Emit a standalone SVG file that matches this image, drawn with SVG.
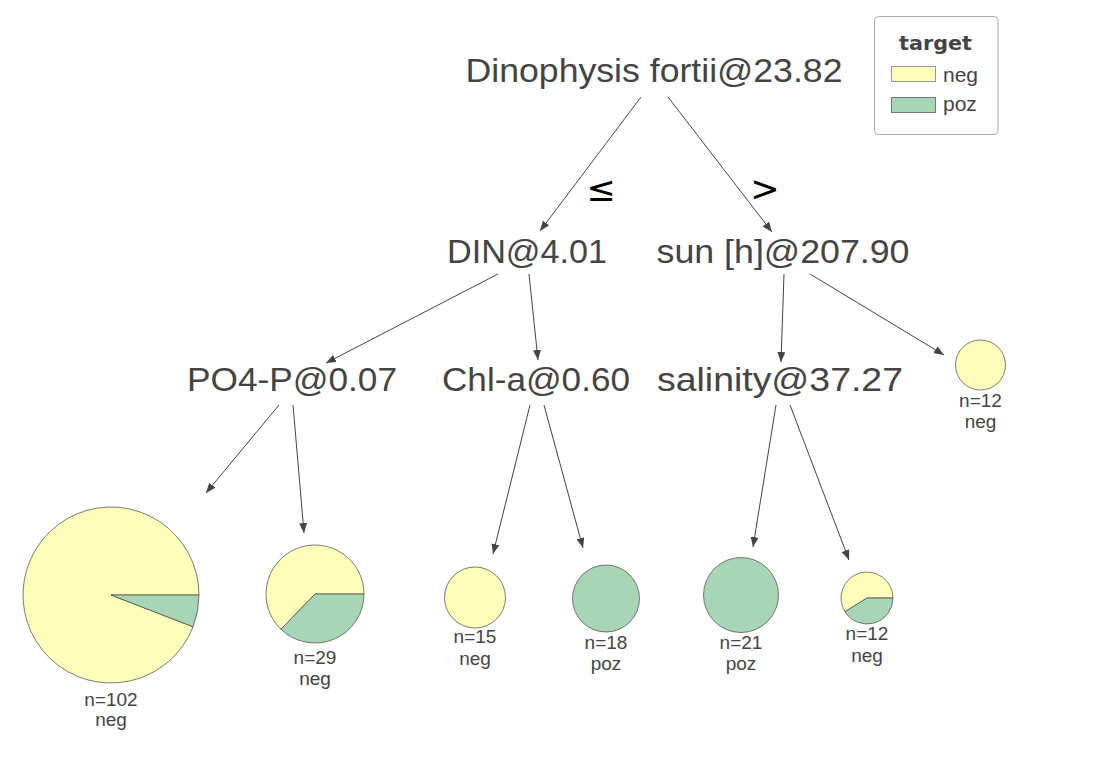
<svg xmlns="http://www.w3.org/2000/svg" width="1108" height="760" viewBox="0 0 1108 760">
<defs>
<style>
.node{font-family:"Liberation Sans",Arial,sans-serif;font-size:32.5px;fill:#444443;text-anchor:middle}
.lbl{font-family:"Liberation Sans",Arial,sans-serif;font-size:19px;fill:#444443;text-anchor:middle}
.edge{stroke:#444443;stroke-width:1;fill:none;marker-end:url(#ah)}
.neg{fill:#FEFEBB;stroke:#444443;stroke-width:0.7}
.poz{fill:#A9D5B7;stroke:#444443;stroke-width:0.7}
.op{font-family:"DejaVu Sans",sans-serif;font-size:35px;fill:#000;text-anchor:middle}
</style>
<marker id="ah" viewBox="0 0 10 8" refX="10" refY="4" markerWidth="10" markerHeight="8" markerUnits="userSpaceOnUse" orient="auto">
<path d="M0,0 L10,4 L0,8 Z" fill="#444443"/>
</marker>
</defs>
<rect width="1108" height="760" fill="#fff"/>
<g id="connectors">
<line class="edge" x1="641" y1="97" x2="540" y2="231"/>
<line class="edge" x1="668" y1="97" x2="772" y2="232"/>
<line class="edge" x1="498" y1="274" x2="326" y2="363"/>
<line class="edge" x1="529" y1="274" x2="538" y2="360"/>
<line class="edge" x1="784" y1="274" x2="781" y2="362"/>
<line class="edge" x1="810" y1="274" x2="944" y2="355"/>
<line class="edge" x1="279" y1="405" x2="206" y2="493"/>
<line class="edge" x1="293" y1="405" x2="304" y2="533"/>
<line class="edge" x1="530" y1="405" x2="493" y2="554"/>
<line class="edge" x1="544" y1="405" x2="583" y2="548"/>
<line class="edge" x1="776" y1="405" x2="753" y2="547"/>
<line class="edge" x1="790" y1="405" x2="849" y2="560"/>
<text class="op" x="601" y="201">≤</text>
<text class="op" x="765" y="201">&gt;</text>
</g>
<g id="root"><text class="node" x="654" y="82" textLength="377" lengthAdjust="spacingAndGlyphs">Dinophysis fortii@23.82</text></g>
<g id="din"><text class="node" x="527" y="263" textLength="160" lengthAdjust="spacingAndGlyphs">DIN@4.01</text></g>
<g id="sun"><text class="node" x="783" y="263" textLength="253" lengthAdjust="spacingAndGlyphs">sun [h]@207.90</text></g>
<g id="po4"><text class="node" x="292" y="391" textLength="210" lengthAdjust="spacingAndGlyphs">PO4-P@0.07</text></g>
<g id="chl"><text class="node" x="536" y="391" textLength="188" lengthAdjust="spacingAndGlyphs">Chl-a@0.60</text></g>
<g id="sal"><text class="node" x="780" y="391" textLength="246" lengthAdjust="spacingAndGlyphs">salinity@37.27</text></g>
<g id="leaf102">
<path class="neg" d="M111,595 L193.05,626.8 A88,88 0 1,1 199,595 Z"/>
<path class="poz" d="M111,595 L199,595 A88,88 0 0,1 193.05,626.8 Z"/>
<text class="lbl" x="111" y="706">n=102</text><text class="lbl" x="111" y="726">neg</text>
</g>
<g id="leaf29">
<path class="neg" d="M315,594 L280.96,629.25 A49,49 0 1,1 364,594 Z"/>
<path class="poz" d="M315,594 L364,594 A49,49 0 0,1 280.96,629.25 Z"/>
<text class="lbl" x="315" y="664">n=29</text><text class="lbl" x="315" y="685">neg</text>
</g>
<g id="leaf15">
<circle class="neg" cx="475" cy="597.5" r="30.5"/>
<text class="lbl" x="475" y="643">n=15</text><text class="lbl" x="475" y="665">neg</text>
</g>
<g id="leaf18">
<circle class="poz" cx="606" cy="598.5" r="33.5"/>
<text class="lbl" x="606" y="649">n=18</text><text class="lbl" x="606" y="670">poz</text>
</g>
<g id="leaf21">
<circle class="poz" cx="741" cy="595" r="37.5"/>
<text class="lbl" x="741" y="649">n=21</text><text class="lbl" x="741" y="670">poz</text>
</g>
<g id="leaf12b">
<path class="neg" d="M867,598 L844.95,611.78 A26,26 0 1,1 893,598 Z"/>
<path class="poz" d="M867,598 L893,598 A26,26 0 0,1 844.95,611.78 Z"/>
<text class="lbl" x="867" y="640">n=12</text><text class="lbl" x="867" y="662">neg</text>
</g>
<g id="leaf12a">
<circle class="neg" cx="980.5" cy="365" r="25"/>
<text class="lbl" x="980.5" y="407">n=12</text><text class="lbl" x="980.5" y="428">neg</text>
</g>
<g id="legend">
<rect x="874.5" y="16.5" width="123.5" height="118" rx="4" fill="#fff" stroke="#aaa" stroke-width="1"/>
<text x="935.5" y="50" font-family="'DejaVu Sans',sans-serif" font-weight="bold" font-size="19" fill="#444443" text-anchor="middle" textLength="73" lengthAdjust="spacingAndGlyphs">target</text>
<rect x="891.5" y="66.5" width="44" height="15" fill="#FEFEBB" stroke="#999" stroke-width="1"/>
<rect x="891.5" y="97.5" width="44" height="15" fill="#A9D5B7" stroke="#777" stroke-width="1"/>
<text x="943" y="82" font-family="'Liberation Sans',Arial,sans-serif" font-size="21" fill="#444443">neg</text>
<text x="943" y="111" font-family="'Liberation Sans',Arial,sans-serif" font-size="21" fill="#444443">poz</text>
</g>
</svg>
